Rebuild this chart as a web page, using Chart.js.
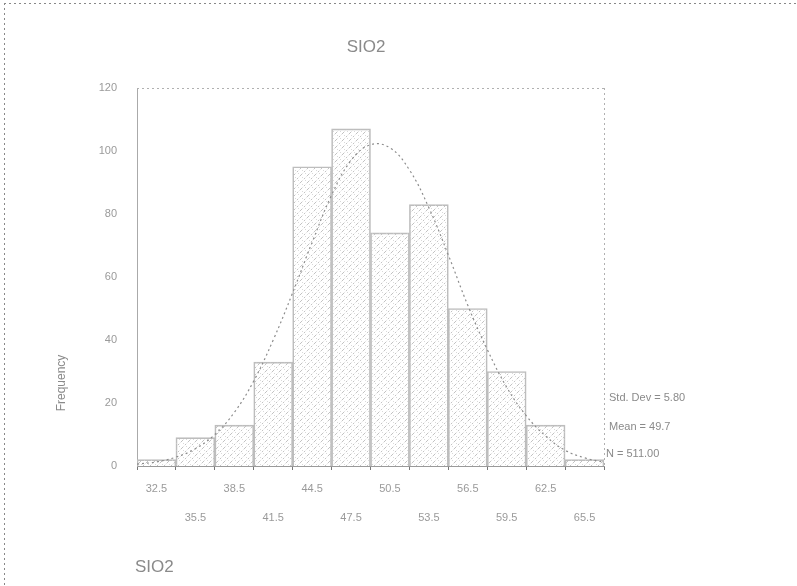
<!DOCTYPE html>
<html>
<head>
<meta charset="utf-8">
<script src="https://cdn.jsdelivr.net/npm/chart.js@4.4.1/dist/chart.umd.min.js"></script>
<style>
  html, body { margin: 0; padding: 0; background: #fff; }
  #wrap { width: 797px; height: 586px; position: relative; }
</style>
</head>
<body>
<div id="wrap"><canvas id="hist" width="797" height="586"></canvas></div>
<script>
// SiO2 histogram, bin width 3
var binCenters = [32.5, 35.5, 38.5, 41.5, 44.5, 47.5, 50.5, 53.5, 56.5, 59.5, 62.5, 65.5];
var counts = [2, 9, 13, 33, 95, 107, 74, 83, 50, 30, 13, 2];
var tickLabels = ['32.5', '35.5', '38.5', '41.5', '44.5', '47.5', '50.5', '53.5', '56.5', '59.5', '62.5', '65.5'];
var yTicks = [0, 20, 40, 60, 80, 100, 120];

// normal curve, read at bin edges and centres
var curveX = [31, 32.5, 34, 35.5, 37, 38.5, 40, 41.5, 43, 44.5, 46, 47.5, 49,
              50.5, 52, 53.5, 55, 56.5, 58, 59.5, 61, 62.5, 64, 65.5, 67];
var curveY = [0.6, 1.3, 2.8, 5.5, 10, 17, 27, 40, 55, 71, 86, 97, 102,
              101, 94, 82, 67, 51, 37, 25, 16, 9.5, 5, 2.6, 1.2];

var stats = ['Std. Dev = 5.80', 'Mean = 49.7', 'N = 511.00'];

var ctx = document.getElementById('hist').getContext('2d');

function makeHatch() {
  var c = document.createElement('canvas');
  c.width = 7; c.height = 7;
  var g = c.getContext('2d');
  g.strokeStyle = '#c2c2c2';
  g.lineWidth = 1;
  g.setLineDash([2, 2]);
  g.beginPath();
  g.moveTo(0, 7); g.lineTo(7, 0);
  g.stroke();
  g.fillStyle = '#dadada';
  g.fillRect(1, 2, 1, 1);
  g.fillRect(4, 5, 1, 1);
  return ctx.createPattern(c, 'repeat');
}

var grey = '#9a9a9a';
var font = "'Liberation Sans', Arial, sans-serif";

var extras = {
  id: 'extras',
  afterDraw: function(chart) {
    var c = chart.ctx, a = chart.chartArea;
    c.save();
    c.strokeStyle = '#b0b0b0';
    c.lineWidth = 1;
    c.setLineDash([2, 3]);
    // plot frame top and right
    c.beginPath();
    c.moveTo(a.left, a.top + 0.5); c.lineTo(a.right, a.top + 0.5);
    c.moveTo(a.right + 0.5, a.top); c.lineTo(a.right + 0.5, a.bottom);
    c.stroke();
    // page border
    c.strokeStyle = '#888';
    c.beginPath();
    c.moveTo(4, 3.5); c.lineTo(797, 3.5);
    c.moveTo(4.5, 3); c.lineTo(4.5, 586);
    c.stroke();
    c.setLineDash([]);

    c.fillStyle = '#8a8a8a';
    c.textBaseline = 'middle';
    c.font = '17px ' + font;
    c.textAlign = 'center';
    c.fillText('SIO2', 366, 47);
    c.textAlign = 'left';
    c.fillText('SIO2', 135, 567);

    c.font = '12px ' + font;
    c.save();
    c.translate(62, 383);
    c.rotate(-Math.PI / 2);
    c.textAlign = 'center';
    c.fillText('Frequency', 0, 0);
    c.restore();

    c.font = '11px ' + font;
    c.textAlign = 'left';
    c.fillText(stats[0], 609, 398);
    c.fillText(stats[1], 609, 427);
    c.fillText(stats[2], 606, 454);
    c.restore();
  }
};

new Chart(ctx, {
  type: 'bar',
  data: {
    datasets: [{
      type: 'line',
      data: curveX.map(function(x, i) { return { x: x, y: curveY[i] }; }),
      borderColor: '#8c8c8c',
      borderWidth: 1.2,
      borderDash: [2, 3],
      pointRadius: 0,
      tension: 0.4,
      fill: false,
      order: 0
    }, {
      data: binCenters.map(function(x, i) { return { x: x, y: counts[i] }; }),
      backgroundColor: makeHatch(),
      borderColor: '#bdbdbd',
      borderWidth: 1,
      barPercentage: 1,
      categoryPercentage: 1,
      order: 1
    }]
  },
  options: {
    responsive: false,
    animation: false,
    layout: { padding: { left: 0, right: 193, top: 88, bottom: 58 } },
    plugins: { legend: { display: false }, tooltip: { enabled: false } },
    scales: {
      x: {
        type: 'linear',
        min: 31,
        max: 67,
        offset: false,
        afterFit: function(s) { s.height = 62; },
        afterBuildTicks: function(s) {
          s.ticks = binCenters.map(function(v) { return { value: v }; });
        },
        grid: { display: true, drawOnChartArea: false, drawTicks: true, tickLength: 4, color: '#777' },
        border: { display: true, color: '#999', dash: [3, 3] },
        ticks: {
          autoSkip: false,
          maxRotation: 0,
          padding: 5,
          color: grey,
          font: { family: font, size: 11, lineHeight: 2.6 },
          callback: function(v, i) {
            return i % 2 === 0 ? [tickLabels[i]] : ['', tickLabels[i]];
          }
        }
      },
      y: {
        min: 0,
        max: 120,
        afterFit: function(s) { s.width = 137; },
        afterBuildTicks: function(s) {
          s.ticks = yTicks.map(function(v) { return { value: v }; });
        },
        grid: { display: false },
        border: { display: true, color: '#aaa', dash: [2, 3] },
        ticks: {
          padding: 12,
          color: grey,
          font: { family: font, size: 11 }
        }
      }
    }
  },
  plugins: [extras]
});
</script>
</body>
</html>
